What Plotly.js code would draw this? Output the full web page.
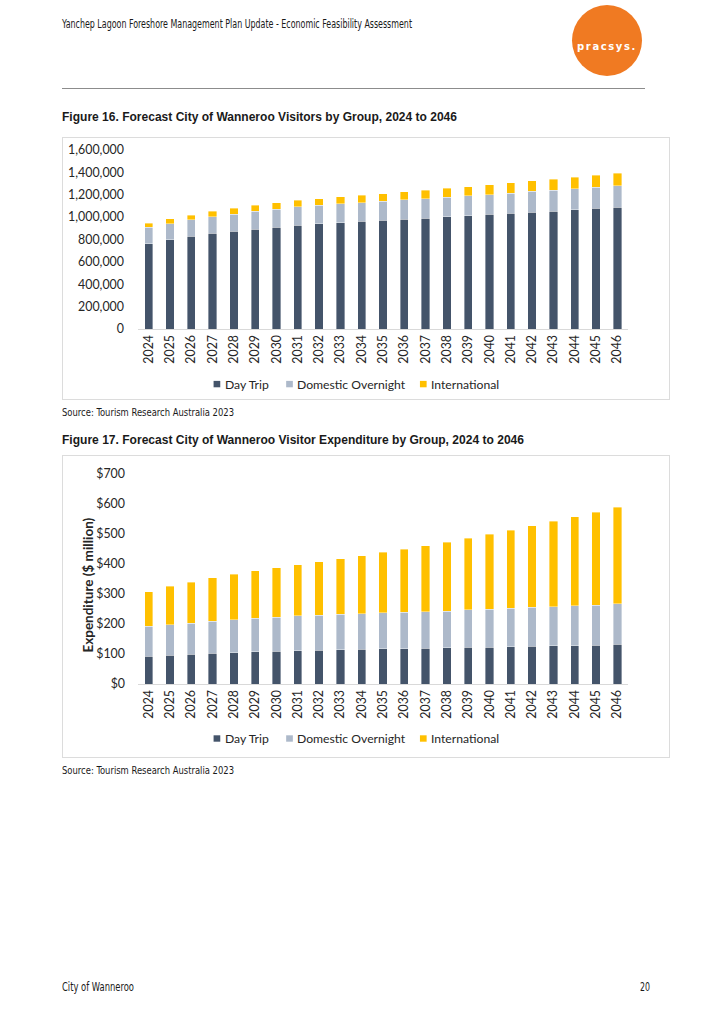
<!DOCTYPE html>
<html><head><meta charset="utf-8">
<script src="https://cdn.plot.ly/plotly-3.0.1.min.js"></script>
<style>
html,body{margin:0;padding:0;background:#fff;}
body{width:706px;height:1022px;position:relative;overflow:hidden;font-family:'Liberation Sans Narrow','DejaVu Sans Condensed','Liberation Sans',sans-serif;color:#1a1a1a;}
.t{position:absolute;white-space:nowrap;transform-origin:0 0;line-height:1;}
.rule{position:absolute;left:62px;top:88px;width:583px;height:0;border-top:1.5px solid #8c8c8c;}
.logo{position:absolute;left:572px;top:5px;width:70px;height:71px;border-radius:50%;background:#F07A22;}
.logo span{position:absolute;left:0;right:0;top:37px;text-align:center;color:#fff;font-family:'DejaVu Sans','Liberation Sans',sans-serif;font-weight:bold;font-size:10px;letter-spacing:1.6px;line-height:1;}
.fig{font-family:'Liberation Sans',Arial,sans-serif;font-weight:bold;font-size:13px;}
.frame{position:absolute;border:1px solid #dcdcdc;box-sizing:border-box;}
.plot{position:absolute;}
</style></head>
<body>
<div class="t" style="left:62px;top:18px;font-size:12px;" data-w="350">Yanchep Lagoon Foreshore Management Plan Update - Economic Feasibility Assessment</div>
<div class="logo"><span>pracsys.</span></div>
<div class="rule"></div>
<div class="t fig" style="left:62px;top:110px;" data-w="395">Figure 16. Forecast City of Wanneroo Visitors by Group, 2024 to 2046</div>
<div class="frame" style="left:62px;top:137px;width:608px;height:263px;"></div>
<div id="c1" class="plot" style="left:62px;top:137px;width:608px;height:263px;"></div>
<div class="t" style="left:62px;top:407px;font-size:11px;" data-w="172">Source: Tourism Research Australia 2023</div>
<div class="t fig" style="left:62px;top:433px;" data-w="462">Figure 17. Forecast City of Wanneroo Visitor Expenditure by Group, 2024 to 2046</div>
<div class="frame" style="left:62px;top:455px;width:608px;height:303px;"></div>
<div id="c2" class="plot" style="left:62px;top:455px;width:608px;height:303px;"></div>
<div class="t" style="left:62px;top:765px;font-size:11px;" data-w="172">Source: Tourism Research Australia 2023</div>
<div class="t" style="left:62px;top:981px;font-size:12px;" data-w="72">City of Wanneroo</div>
<div class="t" style="left:640px;top:981px;font-size:12px;" data-w="10">20</div>
<script>
// ---- data ----
const years = ['2024','2025','2026','2027','2028','2029','2030','2031','2032','2033','2034','2035','2036','2037','2038','2039','2040','2041','2042','2043','2044','2045','2046'];
const seriesNames = ['Day Trip','Domestic Overnight','International'];
const visitorsDayTrip = [764000,797000,827000,854000,872000,893000,910000,928000,940000,949000,961000,973000,982000,991000,1003000,1012000,1024000,1033000,1045000,1054000,1065000,1078000,1090000];
const visitorsDomestic = [144000,144000,148000,150000,155000,158000,162000,164000,166000,169000,168000,168000,172000,174000,175000,178000,177000,182000,185000,188000,189000,191000,192000];
const visitorsIntl = [37000,44000,43000,50000,51000,54000,56000,59000,60000,63000,66000,70000,72000,77000,80000,82000,88000,91000,93000,98000,103000,105000,112000];
const expDayTrip = [92,96,99,102,105,107,109,111,112,114,116,117,118,120,121,122,123,124,126,127,128,130,132];
const expDomestic = [100,102,104,108,109,113,114,117,118,118,118,120,121,121,122,125,126,128,130,131,133,133,135];
const expIntl = [115,128,137,144,152,157,164,169,177,185,193,202,210,220,230,239,250,260,271,284,296,309,323];
const visitorTicks = [0,200000,400000,600000,800000,1000000,1200000,1400000,1600000];
const expTicks = [0,100,200,300,400,500,600,700];
const expTickText = expTicks.map(v => '$' + v);

// ---- styles ----
const colors = ['#44546A','#ADB9CA','#FFC000'];
const FONT = 'Lato, "Open Sans", sans-serif';
const TXT = '#262626';
const ML = 75.6, MR = 41.6, W = 608;
const PW = W - ML - MR;
// legend entry positions in div pixels (square left edge, text left edge)
const legSquareX = [151.3, 224, 358];
const legTextX = [160.7, 232.7, 367.3];

function traces(a,b,c){
  return [a,b,c].map((v,i)=>({
    type:'bar', x:years, y:v, name:seriesNames[i],
    marker:{color:colors[i], line:{color:'rgba(255,255,255,0.55)', width:0.7}},
    hoverinfo:'skip', showlegend:false
  }));
}
function baseLayout(h, mt, mb, legOffset){
  const ph = h - mt - mb;
  const ly = -legOffset / ph;          // legend centre below axis, in paper units
  const half = 3.2 / ph;
  const shapes = seriesNames.map((n,i)=>({
    type:'rect', xref:'paper', yref:'paper',
    x0:(legSquareX[i]-ML)/PW, x1:(legSquareX[i]+6.7-ML)/PW, y0:ly-half, y1:ly+half,
    fillcolor:colors[i], line:{width:0}
  }));
  const anns = seriesNames.map((n,i)=>({
    text:n, xref:'paper', yref:'paper', x:(legTextX[i]-ML)/PW, y:ly, xanchor:'left', yanchor:'middle',
    showarrow:false, font:{family:FONT, size:12.2, color:TXT}
  }));
  return {
    width:W, height:h, barmode:'stack', bargap:0.61,
    margin:{l:ML, r:MR, t:mt, b:mb, pad:0},
    paper_bgcolor:'rgba(0,0,0,0)', plot_bgcolor:'rgba(0,0,0,0)',
    font:{family:FONT, size:12.2, color:TXT},
    showlegend:false, shapes:shapes, annotations:anns,
    xaxis:{type:'category', tickangle:-90, showline:true, linecolor:'#d9d9d9', linewidth:1, ticks:'', showgrid:false,
           tickfont:{family:FONT, size:12.4, color:TXT}, automargin:false, fixedrange:true},
    yaxis:{showline:false, showgrid:false, zeroline:false, ticks:'', ticklabelstandoff:13,
           tickfont:{family:FONT, size:12.4, color:TXT}, automargin:false, fixedrange:true}
  };
}
const l1 = baseLayout(263, 13, 71.3, 55);
l1.yaxis.range = [0,1600000]; l1.yaxis.tickmode = 'array'; l1.yaxis.tickvals = visitorTicks; l1.yaxis.tickformat = ',d';
const l2 = baseLayout(303, 19, 74, 54.5);
l2.yaxis.range = [0,700]; l2.yaxis.tickmode = 'array'; l2.yaxis.tickvals = expTicks; l2.yaxis.ticktext = expTickText;
l2.yaxis.ticklabelstandoff = 12;
l2.annotations.push({text:'Expenditure ($ million)', xref:'paper', yref:'paper', x:-0.101, y:0.471, xanchor:'center', yanchor:'middle',
  textangle:-90, showarrow:false, font:{family:FONT, size:13.5, color:TXT, weight:'bold'}});
const cfg = {staticPlot:true, displayModeBar:false};
Plotly.newPlot('c1', traces(visitorsDayTrip, visitorsDomestic, visitorsIntl), l1, cfg);
Plotly.newPlot('c2', traces(expDayTrip, expDomestic, expIntl), l2, cfg);

// fit page texts to the reference widths
function fit(){
  document.querySelectorAll('[data-w]').forEach(el=>{
    el.style.transform='none';
    const w = el.getBoundingClientRect().width;
    const target = parseFloat(el.dataset.w);
    if (w>0) el.style.transform = 'scaleX(' + (target/w) + ')';
  });
}
fit();
if (document.fonts && document.fonts.ready) document.fonts.ready.then(fit);
</script>
</body></html>
